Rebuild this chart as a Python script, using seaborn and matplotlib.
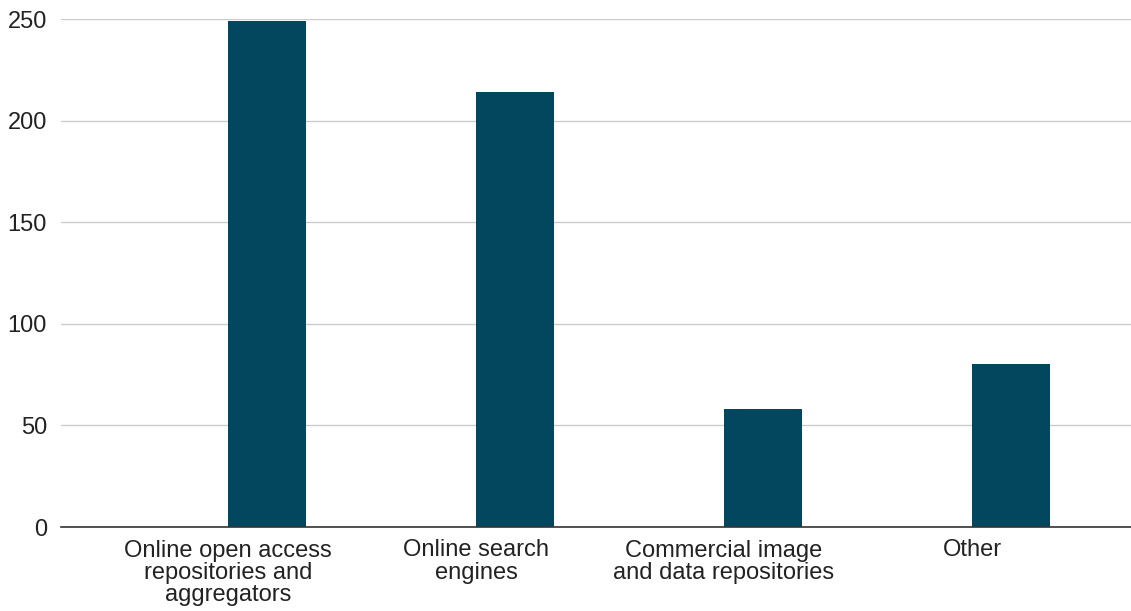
import matplotlib
matplotlib.use("Agg")
import matplotlib.pyplot as plt
import seaborn as sns
import pandas as pd

categories = [
    "Online open access\nrepositories and\naggregators",
    "Online search\nengines",
    "Commercial image\nand data repositories",
    "Other",
]
spacer_values = [0, 0, 0, 0]
counts = [249, 214, 58, 80]
yticks = [0, 50, 100, 150, 200, 250]

df = pd.DataFrame({
    "category": categories * 2,
    "series": ["spacer"] * 4 + ["count"] * 4,
    "value": spacer_values + counts,
})

sns.set_theme(style="white")
plt.rcParams["font.family"] = ["Liberation Sans", "DejaVu Sans"]

fig = plt.figure(figsize=(11.31, 6.11), dpi=100)
ax = fig.add_axes([61 / 1131, 1 - 527 / 611, 1 - 61 / 1131, (527 - 19) / 611])

sns.barplot(
    data=df, x="category", y="value", hue="series",
    hue_order=["spacer", "count"],
    palette={"spacer": "#02475E", "count": "#02475E"},
    width=0.63, dodge=True, saturation=1, legend=False, ax=ax,
    linewidth=0,
)

ax.set_ylim(0, 250)
ax.set_xlim(-167 / 248, (1131 - 228) / 248)
ax.set_yticks(yticks)
ax.set_yticklabels([str(v) for v in yticks])
ax.yaxis.grid(True, color="#cccccc", linewidth=1)
ax.set_axisbelow(True)
for s in ["top", "right", "left"]:
    ax.spines[s].set_visible(False)
ax.spines["bottom"].set_color("#333333")
ax.spines["bottom"].set_linewidth(1.2)
ax.tick_params(axis="both", length=0, labelsize=17, colors="#222222")
ax.tick_params(axis="y", pad=10)
ax.tick_params(axis="x", pad=9)
ax.set_xlabel("")
ax.set_ylabel("")
for lbl in ax.get_xticklabels():
    lbl.set_linespacing(1.0)
    lbl.set_horizontalalignment("center")

fig.savefig("out.png", dpi=100)
